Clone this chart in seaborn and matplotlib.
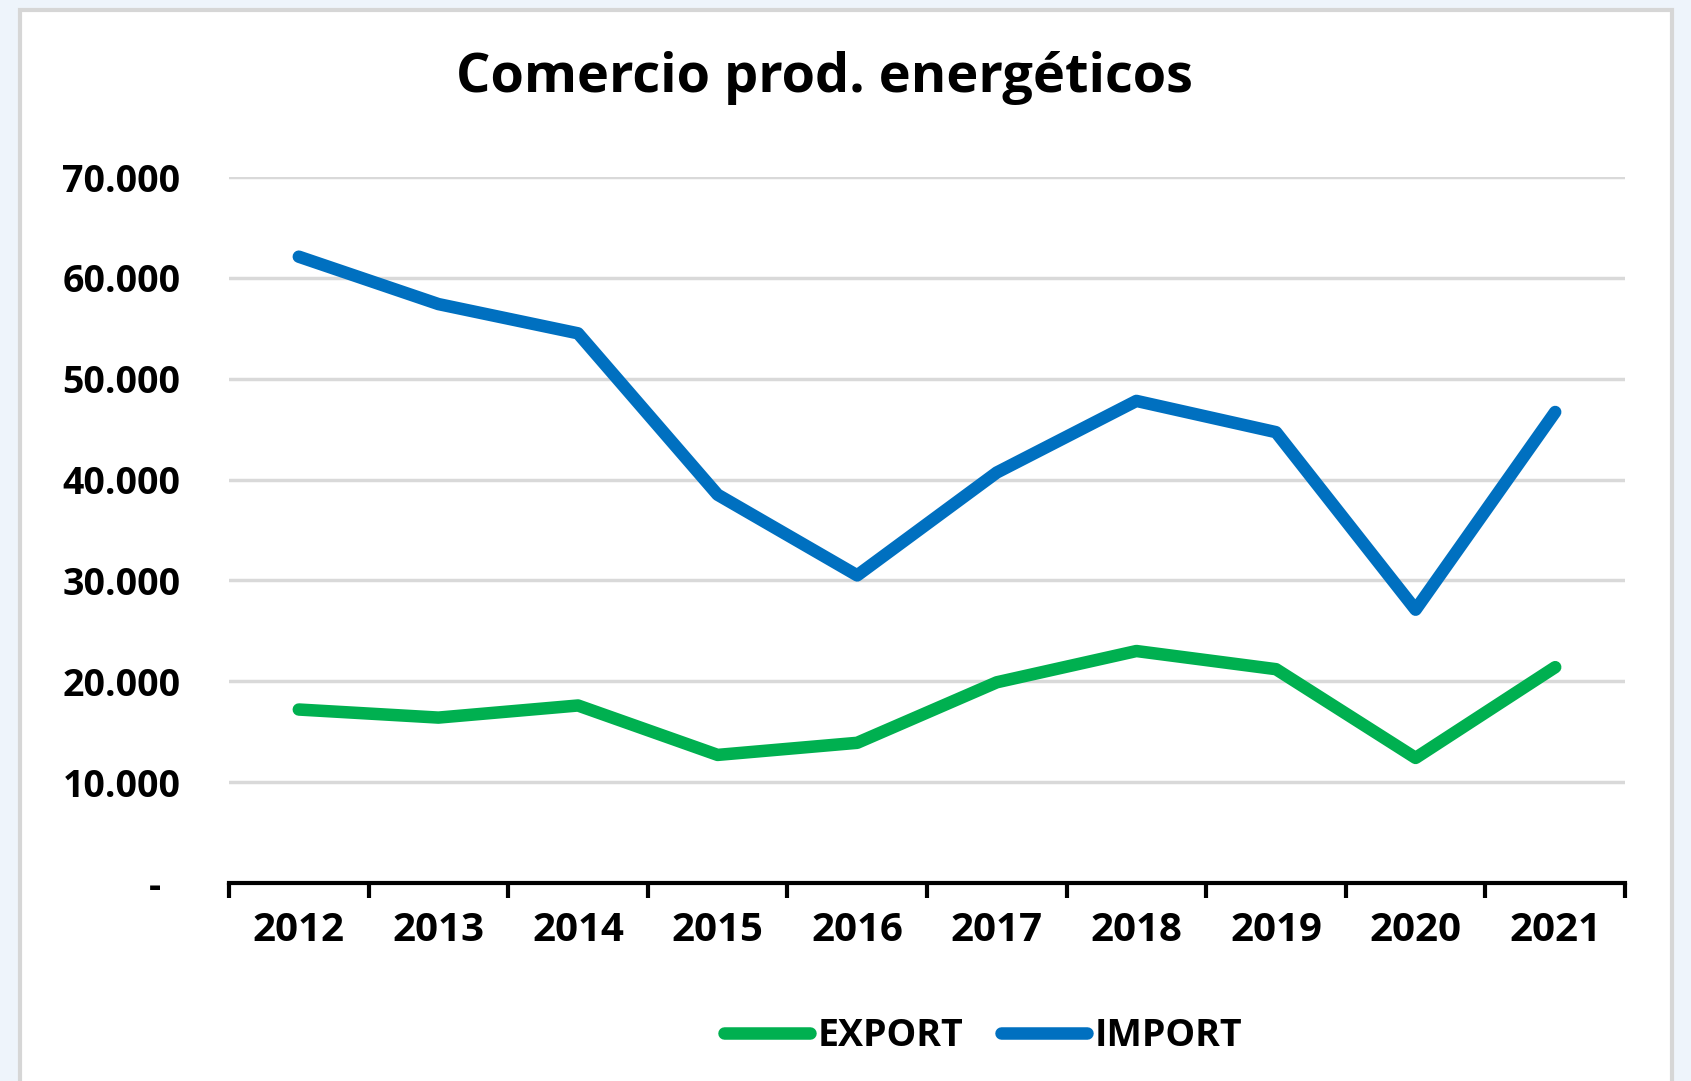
import pandas as pd
import matplotlib.pyplot as plt
import matplotlib.patches as mpatches
from matplotlib.ticker import FuncFormatter, FixedLocator
import seaborn as sns

years = ['2012', '2013', '2014', '2015', '2016', '2017', '2018', '2019', '2020', '2021']
export_vals = [17200, 16400, 17600, 12700, 13900, 19900, 23000, 21200, 12400, 21400]
import_vals = [62100, 57400, 54500, 38500, 30500, 40700, 47800, 44700, 27100, 46700]
series_names = ['EXPORT', 'IMPORT']
colors = {'EXPORT': '#00B050', 'IMPORT': '#0070C0'}

df = pd.DataFrame({
    'Año': years * 2,
    'Valor': export_vals + import_vals,
    'Serie': [series_names[0]] * len(years) + [series_names[1]] * len(years),
})

sns.set_theme(style="white")
plt.rcParams['font.family'] = ['Open Sans', 'DejaVu Sans']
plt.rcParams['font.weight'] = 'bold'
plt.rcParams['text.color'] = 'black'
plt.rcParams['xtick.color'] = 'black'
plt.rcParams['ytick.color'] = 'black'

fig = plt.figure(figsize=(16.91, 10.81), dpi=100, facecolor='#EEF4FB')
# white chart panel like an Excel chart area
panel = mpatches.Rectangle((20 / 1691, -0.01), (1672 - 20) / 1691, 1 - 10 / 1081 + 0.01,
                           transform=fig.transFigure, facecolor='white',
                           edgecolor='#D6D6D6', linewidth=3, zorder=-5)
fig.patches.append(panel)

ax = fig.add_axes([229 / 1691, 1 - 883 / 1081, (1625 - 229) / 1691, (883 - 177) / 1081])
ax.set_facecolor('none')
ax.set_zorder(2)

sns.lineplot(data=df, x='Año', y='Valor', hue='Serie', palette=colors, ax=ax,
             linewidth=9, solid_capstyle='round', solid_joinstyle='round', sort=False)

ax.set_ylim(0, 70000)
ax.set_xlim(-0.5, len(years) - 0.5)
ax.set_yticks(range(0, 70001, 10000))
ax.yaxis.set_major_formatter(FuncFormatter(
    lambda v, p: '-  ' if v == 0 else f'{int(v):,}'.replace(',', '.')))
ax.grid(axis='y', color='#D9D9D9', linewidth=2.5)
ax.set_axisbelow(True)

for s in ['top', 'right', 'left']:
    ax.spines[s].set_visible(False)
ax.spines['bottom'].set_color('black')
ax.spines['bottom'].set_linewidth(3)

ax.tick_params(axis='y', length=0, pad=35, labelsize=27)
ax.tick_params(axis='x', which='major', length=0, pad=20, labelsize=29)
ax.xaxis.set_minor_locator(FixedLocator([i - 0.5 for i in range(len(years) + 1)]))
ax.tick_params(axis='x', which='minor', bottom=True, length=11, width=3,
               color='black', direction='out')
for lbl in ax.get_xticklabels() + ax.get_yticklabels():
    lbl.set_fontweight('bold')

ax.set_xlabel('')
ax.set_ylabel('')

fig.text(825 / 1691, 1 - 78 / 1081, 'Comercio prod. energéticos', ha='center', va='center',
         fontsize=39, fontweight='bold', color='black')

handles, labels = ax.get_legend_handles_labels()
ax.legend_.remove()
leg = fig.legend(handles, labels, loc='center', bbox_to_anchor=(983 / 1691, 1 - 1036 / 1081),
                 ncol=2, frameon=False, fontsize=27, handlelength=2.3, handletextpad=0.2,
                 columnspacing=1.0)
for line in leg.get_lines():
    line.set_linewidth(9)
    line.set_solid_capstyle('round')
for t in leg.get_texts():
    t.set_fontweight('bold')
    t.set_color('black')

fig.savefig('out.png', dpi=100, facecolor=fig.get_facecolor())
